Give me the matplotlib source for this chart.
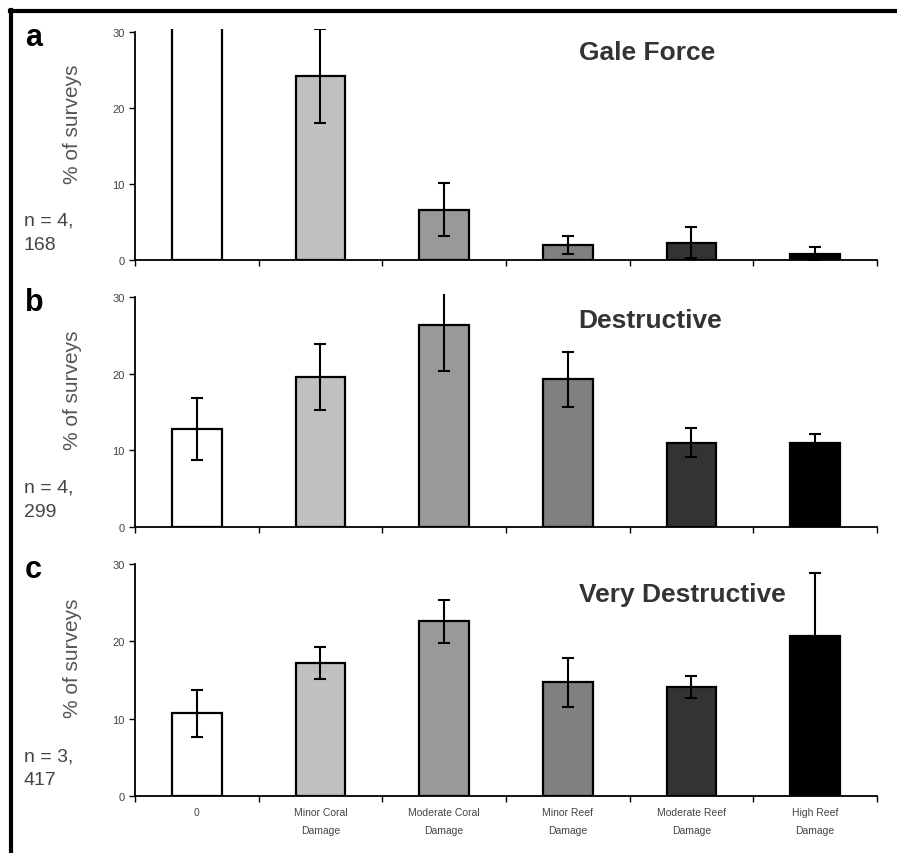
import matplotlib
matplotlib.use("Agg")
import matplotlib.pyplot as plt
from matplotlib.lines import Line2D
import numpy as np

plt.rcParams['font.family'] = ['Liberation Sans', 'DejaVu Sans']

# categories along the x axis
categories = ["0", "Minor Coral\nDamage", "Moderate Coral\nDamage",
              "Minor Reef\nDamage", "Moderate Reef\nDamage", "High Reef\nDamage"]
bar_colors = ["#ffffff", "#c0c0c0", "#999999", "#808080", "#333333", "#000000"]

# panel a - Gale Force (first bar runs off the top of the axis)
gale_vals = [64.0, 24.2, 6.6, 2.0, 2.3, 0.75]
gale_err = [0.0, 6.2, 3.5, 1.2, 2.0, 0.9]
# panel b - Destructive
destr_vals = [12.8, 19.6, 26.3, 19.3, 11.0, 11.0]
destr_err = [4.0, 4.3, 5.9, 3.6, 1.9, 1.2]
# panel c - Very Destructive
very_vals = [10.7, 17.2, 22.6, 14.7, 14.1, 20.7]
very_err = [3.0, 2.1, 2.8, 3.2, 1.4, 8.2]

panels = [
    ("a", "Gale Force", "n = 4,\n168", gale_vals, gale_err, 0.69, 0.90),
    ("b", "Destructive", "n = 4,\n299", destr_vals, destr_err, 0.694, 0.89),
    ("c", "Very Destructive", "n = 3,\n417", very_vals, very_err, 0.738, 0.86),
]
# axes rectangles in figure fraction
rects = [
    [0.1505, 0.6944, 0.8272, 0.2705],
    [0.1505, 0.3817, 0.8272, 0.2728],
    [0.1505, 0.0667, 0.8272, 0.2752],
]

fig = plt.figure(figsize=(8.97, 8.54), dpi=100)
x = np.arange(len(categories)) + 0.5

for i, (letter, title, ntext, vals, err, tx, ty) in enumerate(panels):
    ax = fig.add_axes(rects[i])
    ax.bar(x, vals, width=0.4, color=bar_colors, edgecolor="black", linewidth=1.6)
    ax.errorbar(x, vals, yerr=err, fmt="none", ecolor="black", elinewidth=1.5,
                capsize=4, capthick=1.5)
    ax.set_xlim(0, 6)
    ax.set_ylim(0, 30.4)
    ax.spines["top"].set_visible(False)
    ax.spines["right"].set_visible(False)
    ax.spines["left"].set_bounds(0, 30)
    ax.spines["left"].set_linewidth(1.3)
    ax.spines["bottom"].set_linewidth(1.3)
    ax.set_yticks([0, 10, 20, 30])
    ax.tick_params(axis="y", labelsize=8, labelcolor="#444444", length=4, width=1)
    ax.set_xticks(np.arange(7))
    ax.set_xticklabels([])
    ax.tick_params(axis="x", which="major", length=4, width=1, direction="out")
    ax.set_xticks(x, minor=True)
    if i == 2:
        ax.set_xticklabels(categories, minor=True, fontsize=7.5, color="#444444",
                           linespacing=2.0)
    ax.tick_params(axis="x", which="minor", length=0, pad=8)
    ax.set_ylabel("% of surveys", fontsize=15, color="#555555")
    ax.yaxis.set_label_coords(-0.072, 0.59)
    ax.text(tx, ty, title, transform=ax.transAxes, ha="center", va="center",
            fontsize=19, fontweight="bold", color="#333333")
    ax.text(-0.148, 0.965, letter, transform=ax.transAxes, ha="left", va="center",
            fontsize=22, fontweight="bold", color="black")
    ax.text(-0.15, 0.12, ntext, transform=ax.transAxes, ha="left", va="center",
            fontsize=14, color="#444444", linespacing=1.55)

# outer frame lines (top and left)
fig.add_artist(Line2D([0.011, 1.0], [0.986, 0.986], color="black", linewidth=3))
fig.add_artist(Line2D([0.0125, 0.0125], [0.0, 0.987], color="black", linewidth=3))

fig.savefig("out.png", dpi=100)
